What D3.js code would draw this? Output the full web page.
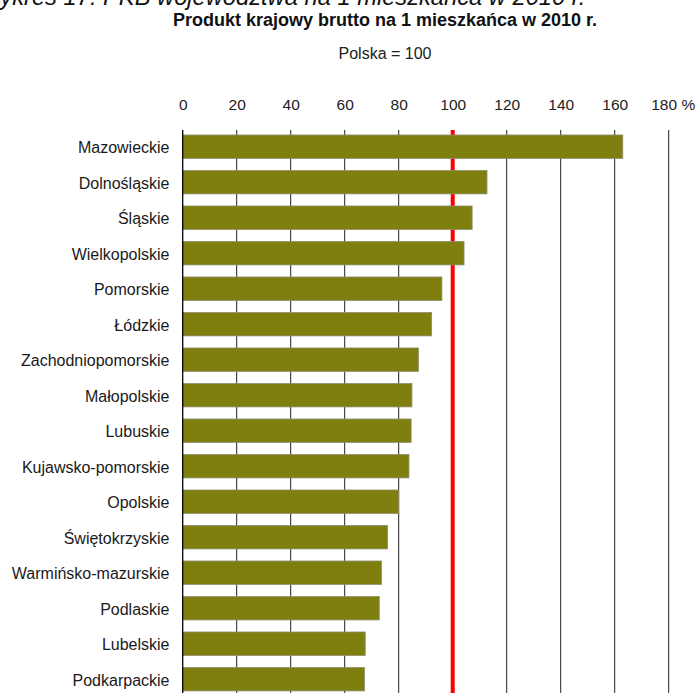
<!DOCTYPE html>
<html lang="pl">
<head>
<meta charset="utf-8">
<script src="https://cdn.jsdelivr.net/npm/d3@7"></script>
<style>
  html, body { margin: 0; padding: 0; background: #fff; }
  svg { display: block; font-family: "Liberation Sans", Arial, sans-serif; }
</style>
</head>
<body>
<svg id="chart" width="699" height="693"></svg>
<script>
// GDP per capita by voivodeship, 2010 (Poland = 100)
const regions = [
  "Mazowieckie", "Dolnośląskie", "Śląskie", "Wielkopolskie", "Pomorskie",
  "Łódzkie", "Zachodniopomorskie", "Małopolskie", "Lubuskie",
  "Kujawsko-pomorskie", "Opolskie", "Świętokrzyskie", "Warmińsko-mazurskie",
  "Podlaskie", "Lubelskie", "Podkarpackie"
];
const gdpIndex = [
  163.0, 112.7, 107.2, 104.2, 96.0,
  92.2, 87.3, 84.9, 84.6,
  83.8, 80.0, 75.9, 73.6,
  72.8, 67.6, 67.3
];
const tickValues = [0, 20, 40, 60, 80, 100, 120, 140, 160, 180];
const tickLabels = ["0", "20", "40", "60", "80", "100", "120", "140", "160", "180 %"];
const referenceValue = 100;

const data = regions.map((name, i) => ({ name, value: gdpIndex[i] }));

const svg = d3.select("#chart");
const plotTop = 130;
const plotBottom = 693;

const x = d3.scaleLinear().domain([0, 180]).range([182.7, 668.7]);
const y = d3.scaleBand()
  .domain(regions)
  .range([122.9, 703])
  .paddingInner(0.34)
  .paddingOuter(0.34);

// Figure caption (runs past the top edge of the page)
svg.append("text")
  .attr("x", -22)
  .attr("y", 5)
  .attr("font-size", 23.7)
  .attr("font-style", "italic")
  .attr("fill", "#111")
  .text("Wykres 17. PKB województwa na 1 mieszkańca w 2010 r.");

// Title and subtitle
svg.append("text")
  .attr("x", 385)
  .attr("y", 26)
  .attr("text-anchor", "middle")
  .attr("font-size", 18)
  .attr("font-weight", "bold")
  .attr("fill", "#111")
  .text("Produkt krajowy brutto na 1 mieszkańca w 2010 r.");

svg.append("text")
  .attr("x", 385)
  .attr("y", 59)
  .attr("text-anchor", "middle")
  .attr("font-size", 16)
  .attr("fill", "#222")
  .text("Polska = 100");

// Top axis labels
const xAxis = d3.axisTop(x)
  .tickValues(tickValues)
  .tickFormat((d, i) => tickLabels[i])
  .tickSize(0)
  .tickPadding(0);

const axisG = svg.append("g")
  .attr("transform", "translate(0,110)")
  .call(xAxis);
axisG.select(".domain").remove();
axisG.selectAll("text")
  .attr("font-family", "\"Liberation Sans\", Arial, sans-serif")
  .attr("font-size", 15.5)
  .attr("fill", "#222")
  .attr("dy", 0)
  .attr("dx", d => d === 180 ? 4 : 0);

// Vertical gridlines
svg.append("g")
  .selectAll("line")
  .data(tickValues.filter(d => d !== 0))
  .join("line")
  .attr("x1", d => x(d))
  .attr("x2", d => x(d))
  .attr("y1", plotTop)
  .attr("y2", plotBottom)
  .attr("stroke", "#222")
  .attr("stroke-width", 1);

// Reference line at Poland = 100
svg.append("line")
  .attr("x1", x(referenceValue))
  .attr("x2", x(referenceValue))
  .attr("y1", plotTop)
  .attr("y2", plotBottom)
  .attr("stroke", "#ff0000")
  .attr("stroke-width", 4);

// Bars
svg.append("g")
  .selectAll("rect")
  .data(data)
  .join("rect")
  .attr("x", x(0))
  .attr("y", d => y(d.name))
  .attr("width", d => x(d.value) - x(0))
  .attr("height", y.bandwidth())
  .attr("fill", "#7f7f0f")
  .attr("stroke", "#8e8e70")
  .attr("stroke-width", 0.8);

// Zero axis line
svg.append("line")
  .attr("x1", x(0))
  .attr("x2", x(0))
  .attr("y1", plotTop)
  .attr("y2", plotBottom)
  .attr("stroke", "#000")
  .attr("stroke-width", 1.3);

// Category labels
svg.append("g")
  .selectAll("text")
  .data(data)
  .join("text")
  .attr("x", 169.5)
  .attr("y", d => y(d.name) + y.bandwidth() / 2)
  .attr("dy", "0.4em")
  .attr("text-anchor", "end")
  .attr("font-size", 16)
  .attr("fill", "#1a1a1a")
  .text(d => d.name);
</script>
</body>
</html>
